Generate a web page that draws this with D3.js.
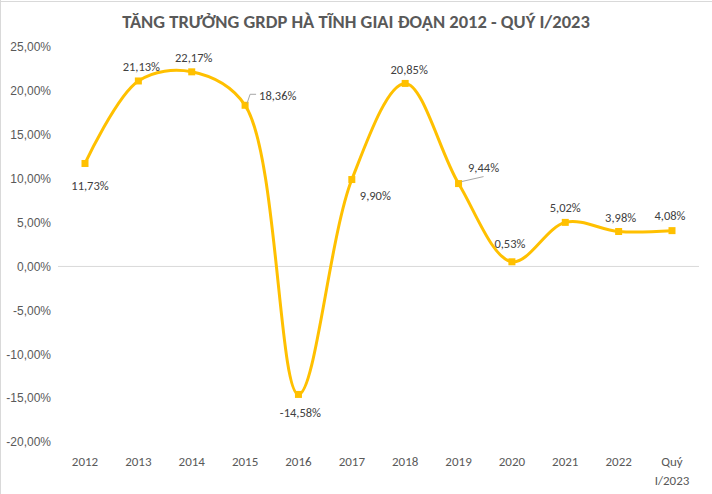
<!DOCTYPE html>
<html><head><meta charset="utf-8">
<script src="https://cdn.jsdelivr.net/npm/d3@7"></script>
<style>body{margin:0;background:#fff;}svg{display:block;font-family:Calibri,Carlito,"Open Sans",sans-serif;}</style>
</head><body>
<script>
const categories = ["2012","2013","2014","2015","2016","2017","2018","2019","2020","2021","2022","Quý\nI/2023"];
const values = [11.73,21.13,22.17,18.36,-14.58,9.90,20.85,9.44,0.53,5.02,3.98,4.08];
const valueLabels = ["11,73%","21,13%","22,17%","18,36%","-14,58%","9,90%","20,85%","9,44%","0,53%","5,02%","3,98%","4,08%"];
const yTicks = [25,20,15,10,5,0,-5,-10,-15,-20];
const yTickLabels = ["25,00%","20,00%","15,00%","10,00%","5,00%","0,00%","-5,00%","-10,00%","-15,00%","-20,00%"];
const title = "TĂNG TRƯỞNG GRDP HÀ TĨNH GIAI ĐOẠN 2012 - QUÝ I/2023";

const W=712,H=494;
const svg=d3.select("body").append("svg").attr("width",W).attr("height",H);
svg.append("line").attr("x1",0).attr("x2",W).attr("y1",1.5).attr("y2",1.5).attr("stroke","#d9d9d9");
svg.append("line").attr("x1",0.5).attr("x2",0.5).attr("y1",0).attr("y2",H).attr("stroke","#d9d9d9");

const x=d3.scalePoint().domain(d3.range(categories.length)).range([85,672]);
const y=d3.scaleLinear().domain([-20,25]).range([442,47]);

svg.append("text").attr("x",356).attr("y",28).attr("text-anchor","middle")
  .attr("font-size",18.5).attr("font-weight","bold").attr("fill","#595959").text(title);

const yAxis=d3.axisLeft(y).tickValues(yTicks).tickSize(0).tickFormat((d,i)=>yTickLabels[i]);
const ya=svg.append("g").attr("transform","translate(54,0)").call(yAxis);
ya.select(".domain").remove();
ya.selectAll("text").attr("font-size",12).attr("fill","#595959").attr("font-family","inherit");

svg.append("line").attr("x1",58).attr("x2",699).attr("y1",y(0)).attr("y2",y(0)).attr("stroke","#d9d9d9").attr("stroke-width",1);

const xl=svg.append("g");
categories.forEach((c,i)=>{
  const lines=c.split("\n");
  const t=xl.append("text").attr("x",x(i)).attr("y",466).attr("text-anchor","middle").attr("font-size",13).attr("fill","#595959");
  lines.forEach((l,j)=>t.append("tspan").attr("x",x(i)).attr("dy",j?19:0).text(l));
});

const line=d3.line().x((d,i)=>x(i)).y(d=>y(d)).curve(d3.curveCatmullRom.alpha(0.5));
svg.append("path").datum(values).attr("d",line).attr("fill","none").attr("stroke","#FFC000").attr("stroke-width",3);
svg.selectAll("rect.m").data(values).join("rect").attr("class","m")
  .attr("x",(d,i)=>x(i)-3.5).attr("y",d=>y(d)-3.5).attr("width",7).attr("height",7).attr("fill","#FFC000");

const offs=[[5,23,"middle"],[3,-14,"middle"],[2,-14,"middle"],[14,-9,"start"],[2,19,"middle"],[8,16,"start"],[4,-13,"middle"],[25,-16,"middle"],[-2,-18,"middle"],[0,-14,"middle"],[2,-14,"middle"],[-2,-15,"middle"]];
values.forEach((v,i)=>{
  const o=offs[i];
  svg.append("text").attr("x",x(i)+o[0]).attr("y",y(v)+o[1]+4).attr("text-anchor",o[2])
    .attr("font-size",12.5).attr("fill","#404040").text(valueLabels[i]);
});
const leaders=[[3,[2,-2],[5,-11],[11,-11]],[7,[3,-2],[25,-7]]];
leaders.forEach(l=>{
  const i=l[0],px=x(i),py=y(values[i]);
  const pts=l.slice(1).map(p=>[px+p[0],py+p[1]]);
  svg.append("path").attr("d",d3.line()(pts)).attr("fill","none").attr("stroke","#a6a6a6").attr("stroke-width",1);
});
</script>
</body></html>
